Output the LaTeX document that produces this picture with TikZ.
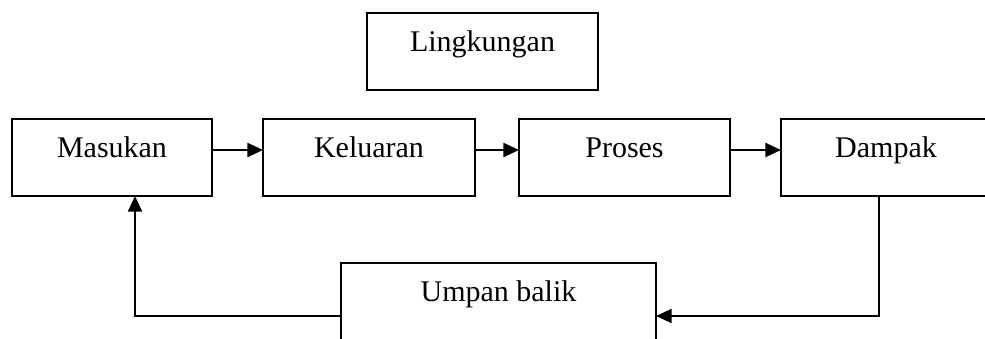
\documentclass[tikz,border=0pt]{standalone}
\usepackage{fontspec}
\setmainfont{Liberation Serif}
\usetikzlibrary{positioning, arrows.meta}

\begin{document}
\begin{tikzpicture}[
    x=0.5pt, y=-0.5pt,
    font=\fontsize{15}{18}\selectfont,
    kotak/.style={draw, line width=1pt, inner sep=0pt, outer sep=0pt,
              text height=19.25pt, text depth=19.25pt, align=center},
    a/.style={-{Triangle[length=7.8pt, width=7pt]}, line width=1pt},
  ]
    \useasboundingbox (0,0) rectangle (985,338);
    \clip (0,0) rectangle (985,338);
    \node[kotak, minimum width=115.5pt] (ling) at (482.5,51.5) {Lingkungan};
    \node[kotak, minimum width=100pt] (masukan) at (112,157.5) {Masukan};
    \node[kotak, minimum width=106pt, right=25.5pt of masukan] (keluaran) {Keluaran};
    \node[kotak, minimum width=105.5pt, right=22pt of keluaran] (proses) {Proses};
    \node[kotak, minimum width=105pt, right=25.5pt of proses] (dampak) {Dampak};
    \node[kotak, minimum width=157.5pt] (umpan) at (498.5,301.5) {Umpan balik};
    \coordinate (fbL) at (135,316);
    \coordinate (fbR) at (879,316);
    \draw[a] ([yshift=3.75pt]masukan.east) -- ([yshift=3.75pt]keluaran.west);
    \draw[a] ([yshift=3.75pt]keluaran.east) -- ([yshift=3.75pt]proses.west);
    \draw[a] ([yshift=3.75pt]proses.east) -- ([yshift=3.75pt]dampak.west);
    \draw[a] (fbR |- dampak.south) -- (fbR) -- (umpan.east |- fbR);
    \draw[a] (umpan.west |- fbL) -- (fbL) -- (fbL |- masukan.south);
  \end{tikzpicture}
\end{document}
